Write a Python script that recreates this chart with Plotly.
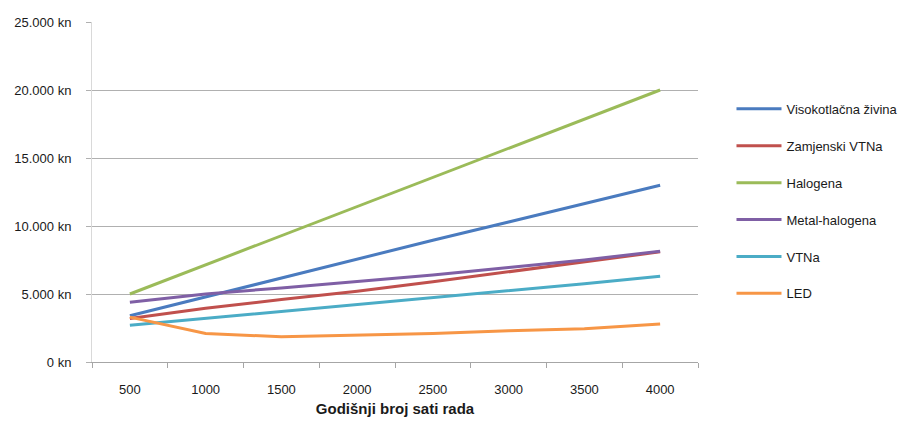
import plotly.graph_objects as go

hours = ["500", "1000", "1500", "2000", "2500", "3000", "3500", "4000"]

visokotlacna = [3400, 4800, 6200, 7600, 8950, 10300, 11650, 13000]
zamjenski_vtna = [3200, 3950, 4600, 5200, 5900, 6650, 7400, 8100]
halogena = [5000, 7150, 9300, 11400, 13550, 15700, 17850, 20000]
metal_halogena = [4400, 5000, 5450, 5900, 6400, 6950, 7500, 8150]
vtna = [2700, 3200, 3700, 4200, 4700, 5250, 5750, 6300]
led = [3300, 2100, 1850, 1950, 2100, 2300, 2450, 2800]

names = ["Visokotlačna živina", "Zamjenski VTNa", "Halogena",
         "Metal-halogena", "VTNa", "LED"]
series = [visokotlacna, zamjenski_vtna, halogena, metal_halogena, vtna, led]
colors = ["#4A7BBF", "#C0504D", "#9BBB59", "#7F5FA5", "#4BACC6", "#F79646"]

FONT = "Liberation Sans, Arial, sans-serif"

fig = go.Figure()
for i, (n, s, c) in enumerate(zip(names, series, colors)):
    fig.add_trace(go.Scatter(x=hours, y=s, name=n, mode="lines",
                             line=dict(color=c, width=3),
                             legendgroup=f"g{i}"))

fig.update_layout(
    width=891, height=409,
    margin=dict(l=84, r=201, t=14, b=55, autoexpand=False),
    paper_bgcolor="white", plot_bgcolor="white",
    font=dict(family=FONT, size=13, color="#1a1a1a"),
    separators=",.",
    showlegend=True,
    legend=dict(xref="container", yref="container",
                x=0.812, xanchor="left", y=0.79, yanchor="top",
                traceorder="grouped", tracegroupgap=17, itemwidth=45,
                font=dict(size=13, color="#1a1a1a"),
                bgcolor="rgba(0,0,0,0)"),
    xaxis=dict(type="category", range=[-0.5, 7.5], automargin=True,
               showgrid=False, showline=True, linecolor="#A6A6A6", linewidth=1,
               ticks="outside", tickson="boundaries", ticklen=5, tickcolor="#A6A6A6",
               ticklabelstandoff=15,
               tickfont=dict(size=13),
               title=dict(text="<b>Godišnji broj sati rada</b>", font=dict(size=15), standoff=10)),
    yaxis=dict(range=[0, 25000], dtick=5000, tickformat=",d", ticksuffix=" kn",
               automargin=False,
               showgrid=True, gridcolor="#B0B0B0", gridwidth=1,
               showline=True, linecolor="#D9D9D9", linewidth=1,
               zeroline=False, ticks="outside", ticklen=5, tickcolor="#B0B0B0",
               ticklabelstandoff=12,
               tickfont=dict(size=13)),
)

fig.write_html("out.html")
